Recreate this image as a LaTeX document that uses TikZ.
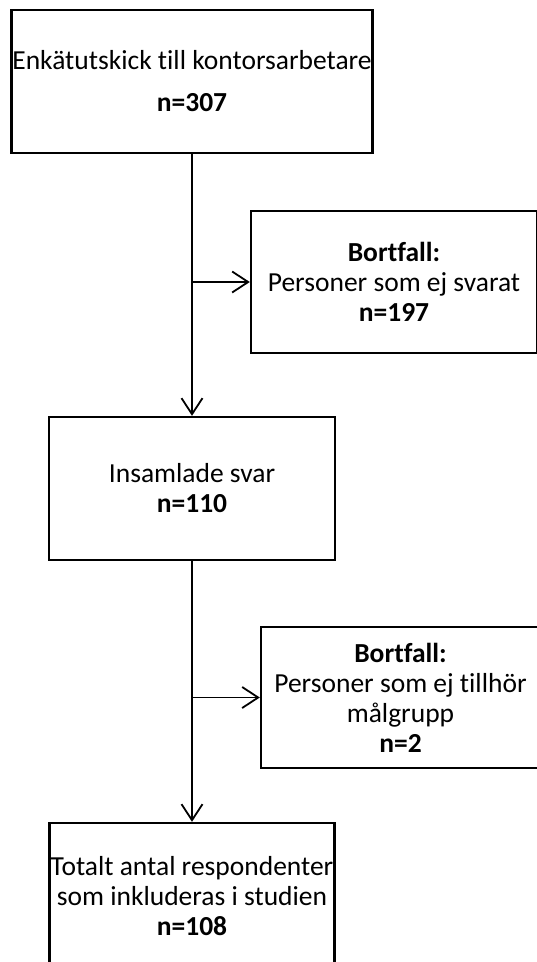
\documentclass[tikz,border=0pt]{standalone}
\usepackage{fontspec}
\setmainfont[Ligatures=NoCommon]{Carlito}
\usetikzlibrary{arrows.meta}
\begin{document}
\begin{tikzpicture}[x=1pt,y=-1pt,
  box/.style={draw,line width=2.4pt,rectangle,align=center,inner sep=0pt,font=\fontsize{27.5}{30}\selectfont},
  conn/.style={line width=1.8pt},
  arr/.style={conn,-{Straight Barb[length=16pt,width=21pt,line width=1.8pt]}}]
\useasboundingbox (0,0) rectangle (537,962);
\node[box,minimum width=361pt,minimum height=143pt] (a) at (192,81.5) {Enkätutskick till kontorsarbetare\\[12pt]\textbf{n=307}};
\node[box,minimum width=286pt,minimum height=142pt] (b) at (394,282) {\textbf{Bortfall:}\\Personer som ej svarat\\\textbf{n=197}};
\node[box,minimum width=286pt,minimum height=143pt] (c) at (192,488.5) {Insamlade svar\\\textbf{n=110}};
\node[box,minimum width=279pt,minimum height=141pt] (d) at (400.5,697.5) {\textbf{Bortfall:}\\Personer som ej tillhör\\målgrupp\\\textbf{n=2}};
\node[box,minimum width=285pt,minimum height=146pt] (e) at (192,896) {Totalt antal respondenter\\som inkluderas i studien\\\textbf{n=108}};
\draw[arr] (a.south) -- (a.south |- c.north);
\coordinate (j1) at (a.south |- b.west);
\draw[arr] (j1) -- (b.west);
\draw[arr] (c.south) -- (c.south |- e.north);
\coordinate (j2) at (c.south |- d.west);
\draw[arr] (j2) -- (d.west);
\end{tikzpicture}
\end{document}
